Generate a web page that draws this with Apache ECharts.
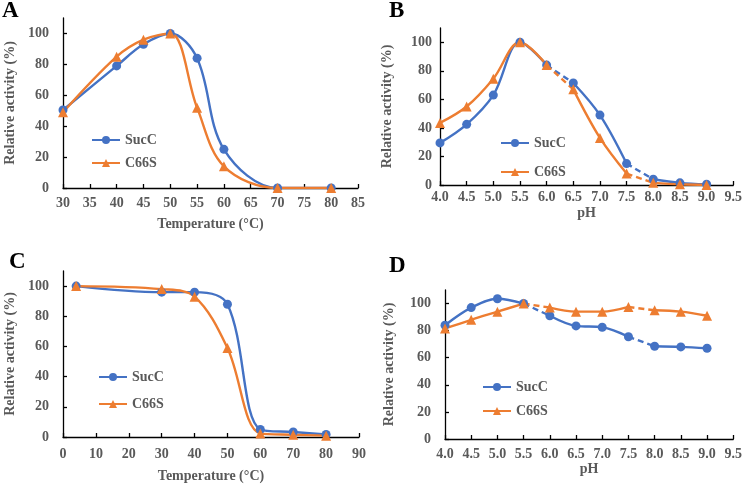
<!DOCTYPE html>
<html>
<head>
<meta charset="utf-8">
<script src="https://cdn.jsdelivr.net/npm/echarts@6/dist/echarts.min.js"></script>
<style>
html, body { margin: 0; padding: 0; background: #fff; }
#main { width: 745px; height: 484px; }
</style>
</head>
<body>
<div id="main"></div>
<script>
// A: 温度对活性的影响
var tempA = [30, 40, 45, 50, 55, 60, 70, 80];
var sucA = [50.5, 79, 93, 100, 84, 25, 0, 0];
var c66A = [49, 85, 96, 100, 52, 14, 0, 0];

// B: pH 对活性的影响
var phX = [4.0, 4.5, 5.0, 5.5, 6.0, 6.5, 7.0, 7.5, 8.0, 8.5, 9.0];
var sucB = [29.5, 42.5, 63, 100, 84, 71.5, 49, 15, 4, 1.5, 0.5];
var c66B = [43.5, 55, 74.5, 100, 84, 67, 33, 8, 1.5, 0.5, 0];
var dashB = [[4, 5], [7, 8]]; // 虚线段 (索引对)

// C: 温度稳定性
var tempC = [4, 30, 40, 50, 60, 70, 80];
var sucC = [100, 96, 96, 88, 5, 3.3, 1.7];
var c66C = [100, 98, 93, 59, 2.4, 1.5, 0.9];

// D: pH 稳定性
var sucD = [84, 97, 103.5, 100, 91, 83.5, 82.5, 75.5, 68.5, 68, 67];
var c66D = [81.6, 88, 94, 100, 97, 94, 94, 97.5, 95, 94, 91];
var dashD = [[3, 4], [7, 8]];

var yTicks = [0, 20, 40, 60, 80, 100];
var panelLabels = ['A', 'B', 'C', 'D'];
var names = ['SucC', 'C66S'];

var BLUE = '#4472C4', ORANGE = '#ED7D31', GREY = '#595959';
var FONT = '"Liberation Serif", "Times New Roman", serif';

// 按虚线段拆分成实线/虚线 series
function buildSeries(name, xs, ys, dashes, gi, color, symbol, size) {
	var out = [];
	var breaks = (dashes || []).map(function (d) { return d[0]; });
	var start = 0;
	for (var i = 0; i < xs.length; i++) {
		if (breaks.indexOf(i) > -1 || i === xs.length - 1) {
			var seg = [];
			for (var k = start; k <= i; k++) seg.push([xs[k], ys[k]]);
			out.push({
				name: name, type: 'line', xAxisIndex: gi, yAxisIndex: gi,
				data: seg, smooth: 0.35, symbol: symbol, symbolSize: size,
				showAllSymbol: true,
				itemStyle: { color: color },
				lineStyle: { color: color, width: 2.4 },
				emphasis: { disabled: true }
			});
			start = i + 1;
		}
	}
	(dashes || []).forEach(function (d) {
		out.push({
			name: name, type: 'line', xAxisIndex: gi, yAxisIndex: gi,
			data: [[xs[d[0]], ys[d[0]]], [xs[d[1]], ys[d[1]]]],
			showSymbol: false, symbol: 'none',
			itemStyle: { color: color },
			lineStyle: { color: color, width: 2.4, type: [6, 4] },
			emphasis: { disabled: true }
		});
	});
	return out;
}

var grids = [
	{ left: 63, top: 18, width: 295, height: 170 },
	{ left: 440, top: 28, width: 299, height: 157 },
	{ left: 63, top: 271, width: 296, height: 167 },
	{ left: 445, top: 290, width: 294, height: 149 }
];

var xCfg = [
	{ min: 30, max: 85, interval: 5, name: 'Temperature (°C)', gap: 29, margin: 8, fmt: null },
	{ min: 4, max: 9.5, interval: 0.5, name: 'pH', gap: 21, margin: 5, fmt: 1 },
	{ min: 0, max: 90, interval: 10, name: 'Temperature (°C)', gap: 32, margin: 10, fmt: null },
	{ min: 4, max: 9.5, interval: 0.5, name: 'pH', gap: 20, margin: 8, fmt: 1 }
];
var yCfg = [
	{ gap: 46, margin: 14 },
	{ gap: 46, margin: 8 },
	{ gap: 46, margin: 14 },
	{ gap: 49, margin: 14 }
];

var axisLine = { show: true, lineStyle: { color: '#000', width: 1.3 } };
var axisTick = { show: true, inside: true, length: 4, lineStyle: { color: '#000', width: 1.3 } };
var labelFont = { color: GREY, fontFamily: FONT, fontWeight: 'bold', fontSize: 14 };

var xAxes = xCfg.map(function (c, i) {
	return {
		type: 'value', gridIndex: i, min: c.min, max: c.max, interval: c.interval,
		name: c.name, nameLocation: 'middle', nameGap: c.gap,
		nameTextStyle: labelFont,
		axisLine: axisLine, axisTick: axisTick, splitLine: { show: false },
		axisLabel: Object.assign({
			margin: c.margin, showMaxLabel: true, showMinLabel: true,
			formatter: function (v) { return c.fmt ? v.toFixed(c.fmt) : String(v); }
		}, labelFont)
	};
});
var yAxes = yCfg.map(function (c, i) {
	return {
		type: 'value', gridIndex: i, min: 0, max: 110, interval: 20,
		name: 'Relative activity (%)', nameLocation: 'middle', nameGap: c.gap,
		nameTextStyle: labelFont,
		axisLine: axisLine,
		axisTick: Object.assign({ customValues: yTicks }, axisTick),
		splitLine: { show: false },
		axisLabel: Object.assign({ margin: c.margin, customValues: yTicks }, labelFont)
	};
});

var series = [].concat(
	buildSeries('SucC', tempA, sucA, null, 0, BLUE, 'circle', 9),
	buildSeries('C66S', tempA, c66A, null, 0, ORANGE, 'triangle', 10),
	buildSeries('SucC', phX, sucB, dashB, 1, BLUE, 'circle', 9),
	buildSeries('C66S', phX, c66B, dashB, 1, ORANGE, 'triangle', 10),
	buildSeries('SucC', tempC, sucC, null, 2, BLUE, 'circle', 9),
	buildSeries('C66S', tempC, c66C, null, 2, ORANGE, 'triangle', 10),
	buildSeries('SucC', phX, sucD, dashD, 3, BLUE, 'circle', 9),
	buildSeries('C66S', phX, c66D, dashD, 3, ORANGE, 'triangle', 10)
);

var legendPos = [
	{ left: 91, top: 132, gap: 7 },
	{ left: 500, top: 135, gap: 13 },
	{ left: 98, top: 369, gap: 11 },
	{ left: 482, top: 379, gap: 8 }
];
var legends = legendPos.map(function (p) {
	return {
		data: names, orient: 'vertical', left: p.left, top: p.top, padding: 0,
		itemGap: p.gap, itemWidth: 28, itemHeight: 10, selectedMode: false,
		textStyle: { color: GREY, fontFamily: FONT, fontWeight: 'bold', fontSize: 14, lineHeight: 16 }
	};
});

var titlePos = [[2, 0], [389, 0], [9, 251], [389, 255]];
var titles = panelLabels.map(function (t, i) {
	return {
		text: t, left: titlePos[i][0], top: titlePos[i][1], padding: 0,
		textStyle: { color: '#000', fontFamily: FONT, fontWeight: 'bold', fontSize: 23 }
	};
});

var myChart = echarts.init(document.getElementById('main'), null, { renderer: 'canvas' });
myChart.setOption({
	animation: false,
	backgroundColor: '#fff',
	title: titles,
	legend: legends,
	grid: grids,
	xAxis: xAxes,
	yAxis: yAxes,
	series: series
});
</script>
</body>
</html>
